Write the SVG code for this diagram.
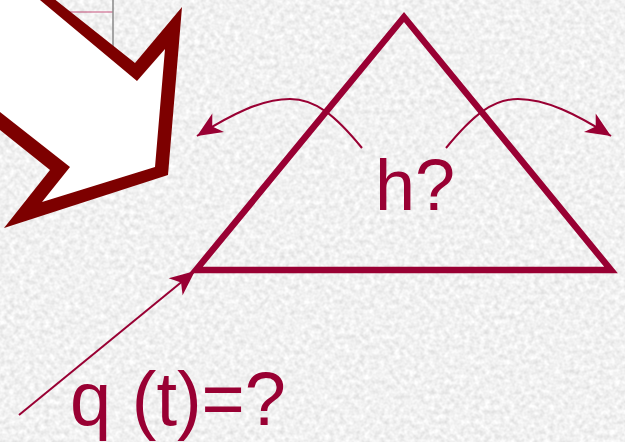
<svg xmlns="http://www.w3.org/2000/svg" width="625" height="442" viewBox="0 0 625 442">
  <style>
    .lbl { font-family: "Liberation Sans", Arial, sans-serif; fill: #990033; }
    .conn { fill: none; stroke: #990033; stroke-width: 2; }
  </style>
  <defs>
    <filter id="granite" x="0" y="0" width="100%" height="100%" filterUnits="userSpaceOnUse">
      <feTurbulence type="fractalNoise" baseFrequency="0.2" numOctaves="2" seed="7" result="n"/>
      <feColorMatrix in="n" type="matrix" values="0.4 0 0 0 0.68  0.4 0 0 0 0.68  0.4 0 0 0 0.68  0 0 0 0 1"/>
    </filter>
    <marker id="head" viewBox="-30 -15 30 30" refX="0" refY="0" markerWidth="30" markerHeight="30" markerUnits="userSpaceOnUse" orient="auto">
      <path d="M0,0 L-25,-11 L-18,0 L-25,11 Z" fill="#990033"/>
    </marker>
  </defs>

  <rect x="0" y="0" width="625" height="442" fill="#e2e2e2"/>
  <rect x="0" y="0" width="625" height="442" filter="url(#granite)"/>

  <!-- partially hidden box edges behind the block arrow -->
  <line x1="67" y1="12" x2="113" y2="12" stroke="#c4507a" stroke-width="1"/>
  <line x1="113" y1="0" x2="113" y2="47" stroke="#8a8a8a" stroke-width="1.5"/>

  <g id="block-arrow">
    <path d="M43,-10 L135,63 L182,7 L168,175 L4,228 L50,170 L-10,122 L-10,-10 Z" fill="#7d0000"/>
    <path d="M28,-10 L137,81 L165,49 L155,167 L42,202 L70,167 L0,112 L-10,104 L-10,-10 Z" fill="#ffffff"/>
  </g>

  <g id="triangle">
    <polygon points="196,270 404,17 611,270" fill="none" stroke="#990033" stroke-width="6.5" stroke-linejoin="miter" stroke-miterlimit="10"/>
  </g>

  <g id="connectors">
    <path class="conn" d="M362,148 C335,115 315,99 290,99 C262,99 232,114 197,136" marker-end="url(#head)"/>
    <path class="conn" d="M446,148 C473,115 493,99 518,99 C546,99 576,114 611,136" marker-end="url(#head)"/>
    <path class="conn" d="M19,415 L195,271" marker-end="url(#head)"/>
  </g>

  <g id="label-h">
    <text class="lbl" x="375" y="210" font-size="72">h?</text>
  </g>
  <g id="label-q">
    <text class="lbl" x="70" y="425" font-size="76" textLength="216" lengthAdjust="spacingAndGlyphs">q (t)=?</text>
  </g>
</svg>
